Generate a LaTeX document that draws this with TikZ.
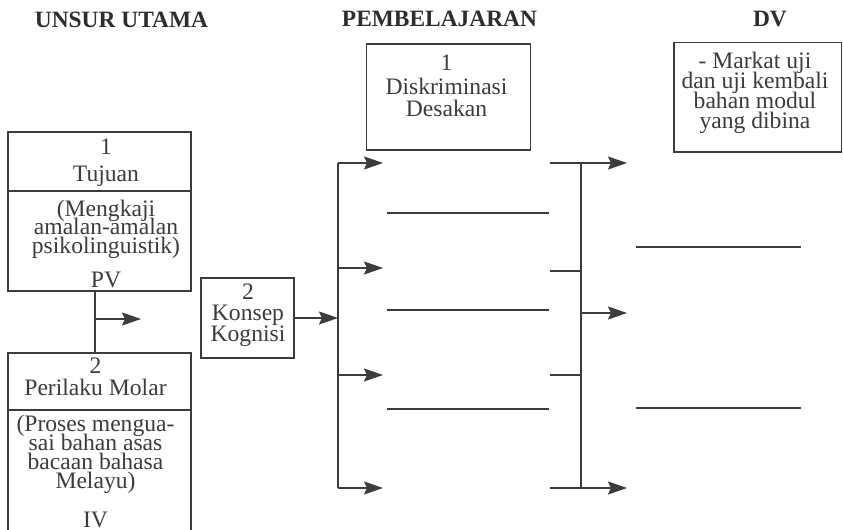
\documentclass[tikz,border=0pt]{standalone}
\usepackage{fontspec}
\setmainfont{Liberation Serif}
\usetikzlibrary{arrows.meta,fit}
\definecolor{ink}{RGB}{60,60,60}
\definecolor{headink}{RGB}{45,45,45}
\newcommand{\bodyfont}[1]{\fontsize{11.8}{#1}\selectfont\lineskiplimit=-30pt\lineskip=0pt}
\begin{document}
\begin{tikzpicture}[x=0.5pt,y=-0.5pt,
  box/.style={draw=ink, line width=0.9pt, inner sep=0pt, outer sep=0pt},
  txt/.style={inner sep=0pt, anchor=base, align=center, text=ink},
  head/.style={inner sep=0pt, anchor=base, text=headink, font=\fontsize{11.7}{12}\selectfont\bfseries},
  ln/.style={draw=ink, line width=0.9pt},
  arr/.style={ln, -{Stealth[length=9.5pt,width=6.5pt,inset=1.5pt]}}]
\useasboundingbox (0,0) rectangle (843,530);
\clip (0,0) rectangle (843,530);
\fill[white] (0,0) rectangle (843,530);

% headings
\node[head] (h1) at (121.5,27) {UNSUR UTAMA};
\node[head] (h2) at (439.5,26) {PEMBELAJARAN};
\node[head] (h3) at (770,26) {DV};

% box 1 : Tujuan  (anchor = baseline of last line)
\node[box, fit={(8,132) (191,291)}] (b1) {};
\draw[ln] (8,191) -- (191,191);
\node[txt, font=\bodyfont{13.5}] (b1t) at (106,182) {1\\Tujuan};
\node[txt, font=\bodyfont{9.2}] (b1l) at (106,287)
  {(Mengkaji\\amalan-amalan\\psikolinguistik)\\[7.8pt]PV};

% box 2 : Perilaku Molar
\node[box, fit={(8,353) (191,545)}] (b2) {};
\draw[ln] (8,410) -- (191,410);
\node[txt, font=\bodyfont{11}] (b2t) at (95.5,395) {2\\Perilaku Molar};
\node[txt, font=\bodyfont{9.4}] (b2l) at (95.5,527)
  {(Proses mengua-\\sai bahan asas\\bacaan bahasa\\Melayu)\\[10pt]IV};

% connector between box 1 and box 2
\coordinate (j1) at (95,319);
\coordinate (j1end) at (141,319);
\draw[ln] (b1.south -| j1) -- (b2.north -| j1);
\draw[arr] (j1) -- (j1end);

% Konsep Kognisi
\node[box, fit={(201,278) (294,358)}] (kk) {};
\node[txt, font=\bodyfont{10.5}] (kkt) at (248,342) {2\\Konsep\\Kognisi};

% Diskriminasi Desakan
\node[box, fit={(366.5,44) (530.5,150)}] (dd) {};
\node[txt, font=\bodyfont{10.8}] (ddt) at (446.5,116.5) {1\\[1.5pt]Diskriminasi\\Desakan};

% DV box
\node[box, fit={(674,42.5) (841.5,152)}] (dv) {};
\node[txt, font=\bodyfont{9.9}] (dvt) at (755,128)
  {- Markat uji\\dan uji kembali\\bahan modul\\yang dibina};

% left bus
\coordinate (bl1) at (338,163);
\coordinate (bl2) at (338,268);
\coordinate (bl3) at (338,375);
\coordinate (bl4) at (338,488);
\coordinate (blm) at (338,318);
\draw[arr] (kk.east) -- (blm);
\draw[ln] (bl1) -- (bl4);
\coordinate (al1) at (383,163);
\coordinate (al2) at (383,268);
\coordinate (al3) at (383,375);
\coordinate (al4) at (383,488);
\draw[arr] (bl1) -- (al1);
\draw[arr] (bl2) -- (al2);
\draw[arr] (bl3) -- (al3);
\draw[arr] (bl4) -- (al4);

% blank slots in the middle
\coordinate (m1a) at (387,213); \coordinate (m1b) at (549,213);
\coordinate (m2a) at (387,310); \coordinate (m2b) at (549,310);
\coordinate (m3a) at (387,409); \coordinate (m3b) at (549,409);
\draw[ln] (m1a) -- (m1b);
\draw[ln] (m2a) -- (m2b);
\draw[ln] (m3a) -- (m3b);

% right bus
\coordinate (r1) at (550,163);
\coordinate (r2) at (550,271);
\coordinate (r3) at (550,375);
\coordinate (r4) at (550,488);
\coordinate (br1) at (581,163);
\coordinate (br2) at (581,271);
\coordinate (br3) at (581,375);
\coordinate (br4) at (581,488);
\coordinate (brm) at (581,313);
\draw[ln] (r1) -- (br1);
\draw[ln] (r2) -- (br2);
\draw[ln] (r3) -- (br3);
\draw[ln] (r4) -- (br4);
\draw[ln] (br1) -- (br4);
\coordinate (t1) at (627,163);
\coordinate (t2) at (627,313);
\coordinate (t3) at (627,488);
\draw[arr] (br1) -- (t1);
\draw[arr] (brm) -- (t2);
\draw[arr] (br4) -- (t3);

% right blank slots
\coordinate (s1a) at (636,247); \coordinate (s1b) at (801,247);
\coordinate (s2a) at (636,408); \coordinate (s2b) at (801,408);
\draw[ln] (s1a) -- (s1b);
\draw[ln] (s2a) -- (s2b);
\end{tikzpicture}
\end{document}
